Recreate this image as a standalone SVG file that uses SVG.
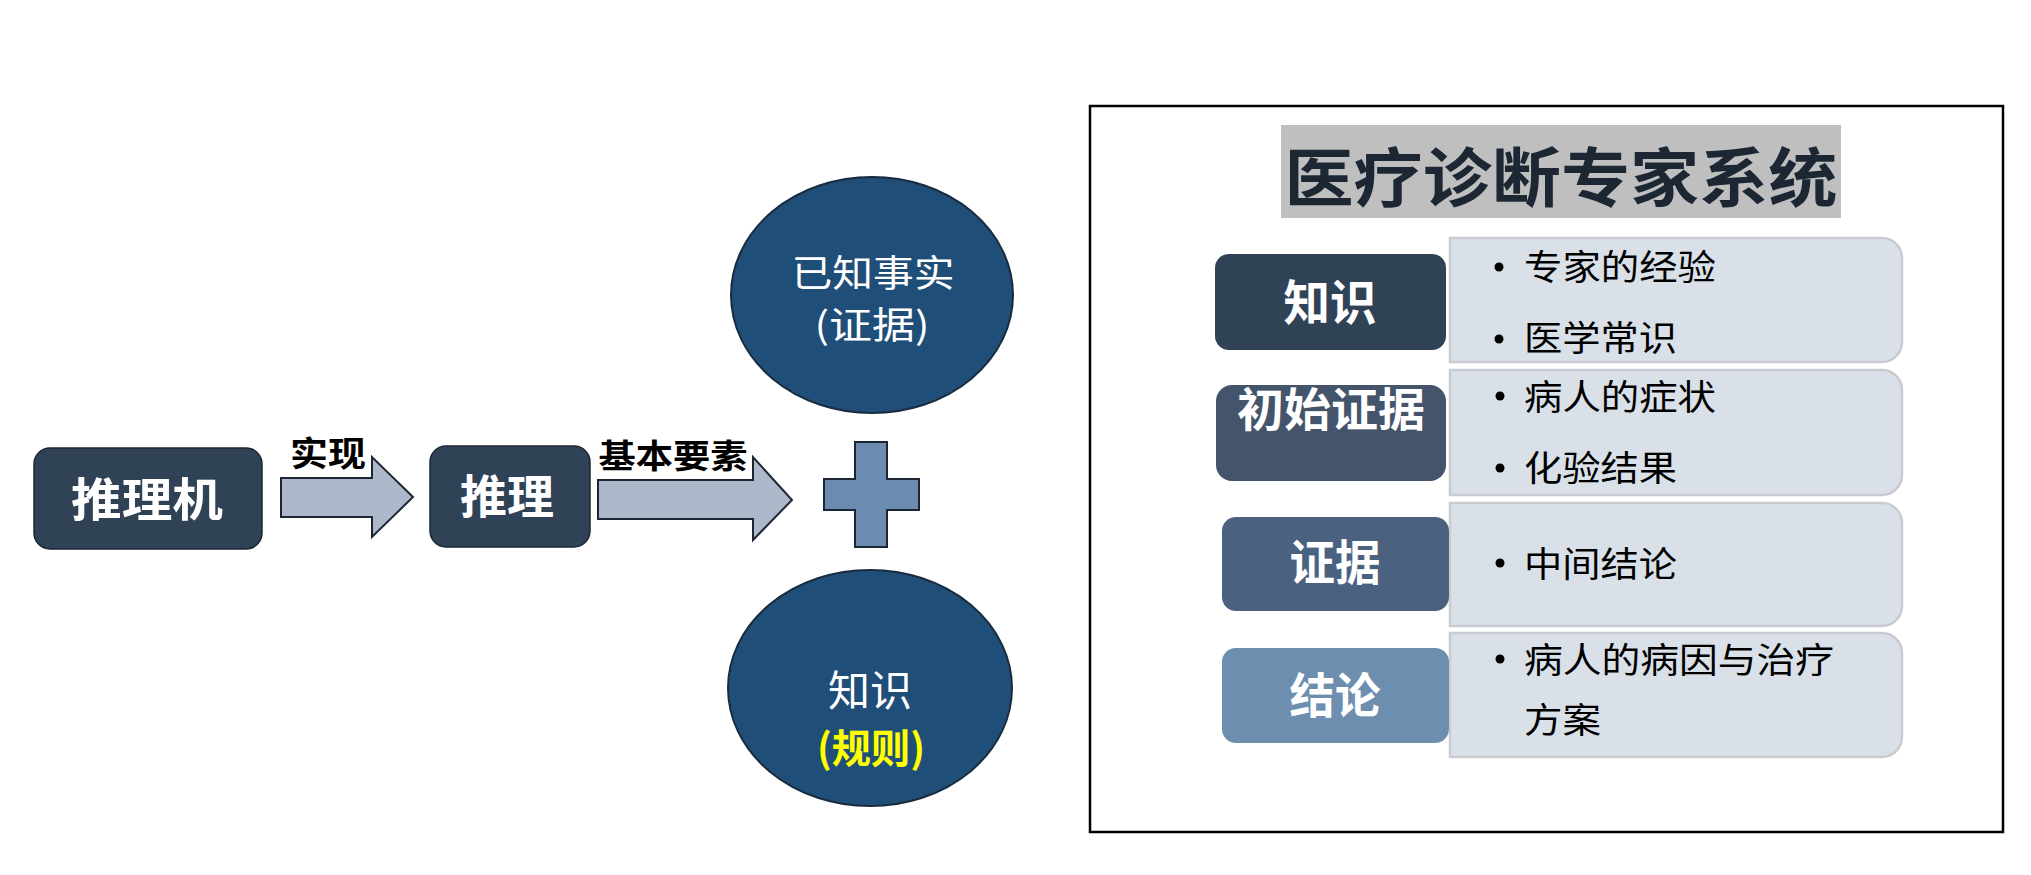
<svg xmlns="http://www.w3.org/2000/svg" width="2031" height="875" viewBox="0 0 2031 875">
<defs>
<style>
.bx{stroke:#1d2733;stroke-width:1.5}
.dark{fill:#2f4256}
.arr{fill:#adb9ca;stroke:#1d2733;stroke-width:2}
.ell{fill:#1f4e79;stroke:#1a2b3d;stroke-width:2}
.pan{fill:#d9e0e8;stroke:#c8cbcf;stroke-width:2.5}
.wb{font-family:"Noto Sans CJK SC","Noto Sans CJK JP",sans-serif;font-weight:bold;fill:#ffffff;text-anchor:middle}
.wr{font-family:"Noto Sans CJK SC","Noto Sans CJK JP",sans-serif;fill:#ffffff;text-anchor:middle}
.kb{font-family:"Noto Sans CJK SC","Noto Sans CJK JP",sans-serif;font-weight:bold;fill:#000000;text-anchor:middle}
.kr{font-family:"Noto Sans CJK SC","Noto Sans CJK JP",sans-serif;fill:#000000;font-size:35px}
</style>
<clipPath id="clipInit"><rect x="1216" y="385" width="230" height="96" rx="16"/></clipPath>
</defs>
<rect width="2031" height="875" fill="#ffffff"/>

<g id="connectors">
<path class="arr" d="M281,478 H372 V457 L413,497 L372,537 V517 H281 Z"/>
<text class="kb" x="328" y="466" font-size="34" textLength="76" lengthAdjust="spacingAndGlyphs">实现</text>
<path class="arr" d="M598,480 H753 V457 L792,500 L753,540 V519 H598 Z"/>
<text class="kb" x="673" y="468" font-size="33" textLength="149" lengthAdjust="spacingAndGlyphs">基本要素</text>
</g>

<g id="node-tuliji">
<rect class="bx dark" x="34" y="448" width="228" height="101" rx="16"/>
<text class="wb" x="147" y="516" font-size="46" textLength="152" lengthAdjust="spacingAndGlyphs">推理机</text>
</g>

<g id="node-tuili">
<rect class="bx dark" x="430" y="446" width="160" height="101" rx="16"/>
<text class="wb" x="507" y="513" font-size="46" textLength="94" lengthAdjust="spacingAndGlyphs">推理</text>
</g>

<g id="node-plus">
<path d="M855,442 H887 V479 H919 V510 H887 V547 H855 V510 H824 V479 H855 Z" fill="#6b8cb0" stroke="#1a2633" stroke-width="2"/>
</g>

<g id="node-facts">
<ellipse class="ell" cx="872" cy="295" rx="141" ry="118"/>
<text class="wr" x="873" y="287" font-size="37" textLength="163" lengthAdjust="spacingAndGlyphs">已知事实</text>
<text class="wr" x="872" y="339" font-size="37" textLength="115" lengthAdjust="spacingAndGlyphs">(证据)</text>
</g>

<g id="node-knowledge">
<ellipse class="ell" cx="870" cy="688" rx="142" ry="118"/>
<text class="wr" x="870" y="706" font-size="42" textLength="84" lengthAdjust="spacingAndGlyphs">知识</text>
<text x="871" y="763" font-size="40" font-weight="bold" fill="#ffff00" text-anchor="middle" font-family="Noto Sans CJK SC,Noto Sans CJK JP,sans-serif" textLength="108" lengthAdjust="spacingAndGlyphs">(规则)</text>
</g>

<g id="panel-frame">
<rect x="1090" y="106" width="913" height="726" fill="none" stroke="#000000" stroke-width="2.5"/>
</g>

<g id="title">
<rect x="1281" y="125" width="560" height="93" fill="#bfbfbf"/>
<text x="1561" y="201" font-size="64" font-weight="bold" fill="#1c2733" text-anchor="middle" font-family="Noto Sans CJK SC,Noto Sans CJK JP,sans-serif" textLength="553" lengthAdjust="spacingAndGlyphs">医疗诊断专家系统</text>
</g>

<g id="row-knowledge">
<path class="pan" d="M1450,238 H1882 A20,20 0 0 1 1902,258 V342 A20,20 0 0 1 1882,362 H1450 Z"/>
<rect class="dark" x="1215" y="254" width="231" height="96" rx="14"/>
<text class="wb" x="1330" y="320" font-size="48" textLength="93" lengthAdjust="spacingAndGlyphs">知识</text>
<circle cx="1499" cy="267" r="4.5" fill="#000"/>
<text class="kr" x="1524" y="280" textLength="192" lengthAdjust="spacingAndGlyphs">专家的经验</text>
<circle cx="1499" cy="339" r="4.5" fill="#000"/>
<text class="kr" x="1524" y="351" textLength="153" lengthAdjust="spacingAndGlyphs">医学常识</text>
</g>

<g id="row-initial">
<path class="pan" d="M1450,370 H1882 A20,20 0 0 1 1902,390 V475 A20,20 0 0 1 1882,495 H1450 Z"/>
<rect x="1216" y="385" width="230" height="96" rx="16" fill="#44546a"/>
<text class="wb" x="1331" y="426" font-size="46" clip-path="url(#clipInit)" textLength="188" lengthAdjust="spacingAndGlyphs">初始证据</text>
<circle cx="1500" cy="396" r="4.5" fill="#000"/>
<text class="kr" x="1524" y="410" textLength="192" lengthAdjust="spacingAndGlyphs">病人的症状</text>
<circle cx="1500" cy="468" r="4.5" fill="#000"/>
<text class="kr" x="1524" y="481" textLength="153" lengthAdjust="spacingAndGlyphs">化验结果</text>
</g>

<g id="row-evidence">
<path class="pan" d="M1450,503 H1882 A20,20 0 0 1 1902,523 V606 A20,20 0 0 1 1882,626 H1450 Z"/>
<rect x="1222" y="517" width="227" height="94" rx="14" fill="#4a6280"/>
<text class="wb" x="1335" y="580" font-size="48" textLength="91" lengthAdjust="spacingAndGlyphs">证据</text>
<circle cx="1500" cy="563" r="4.5" fill="#000"/>
<text class="kr" x="1524" y="577" textLength="153" lengthAdjust="spacingAndGlyphs">中间结论</text>
</g>

<g id="row-conclusion">
<path class="pan" d="M1450,633 H1882 A20,20 0 0 1 1902,653 V737 A20,20 0 0 1 1882,757 H1450 Z"/>
<rect x="1222" y="648" width="227" height="95" rx="14" fill="#6d8eaf"/>
<text class="wb" x="1335" y="713" font-size="48" textLength="91" lengthAdjust="spacingAndGlyphs">结论</text>
<circle cx="1500" cy="659" r="4.5" fill="#000"/>
<text class="kr" x="1524" y="673" textLength="310" lengthAdjust="spacingAndGlyphs">病人的病因与治疗</text>
<text class="kr" x="1524" y="733" textLength="77" lengthAdjust="spacingAndGlyphs">方案</text>
</g>
</svg>
